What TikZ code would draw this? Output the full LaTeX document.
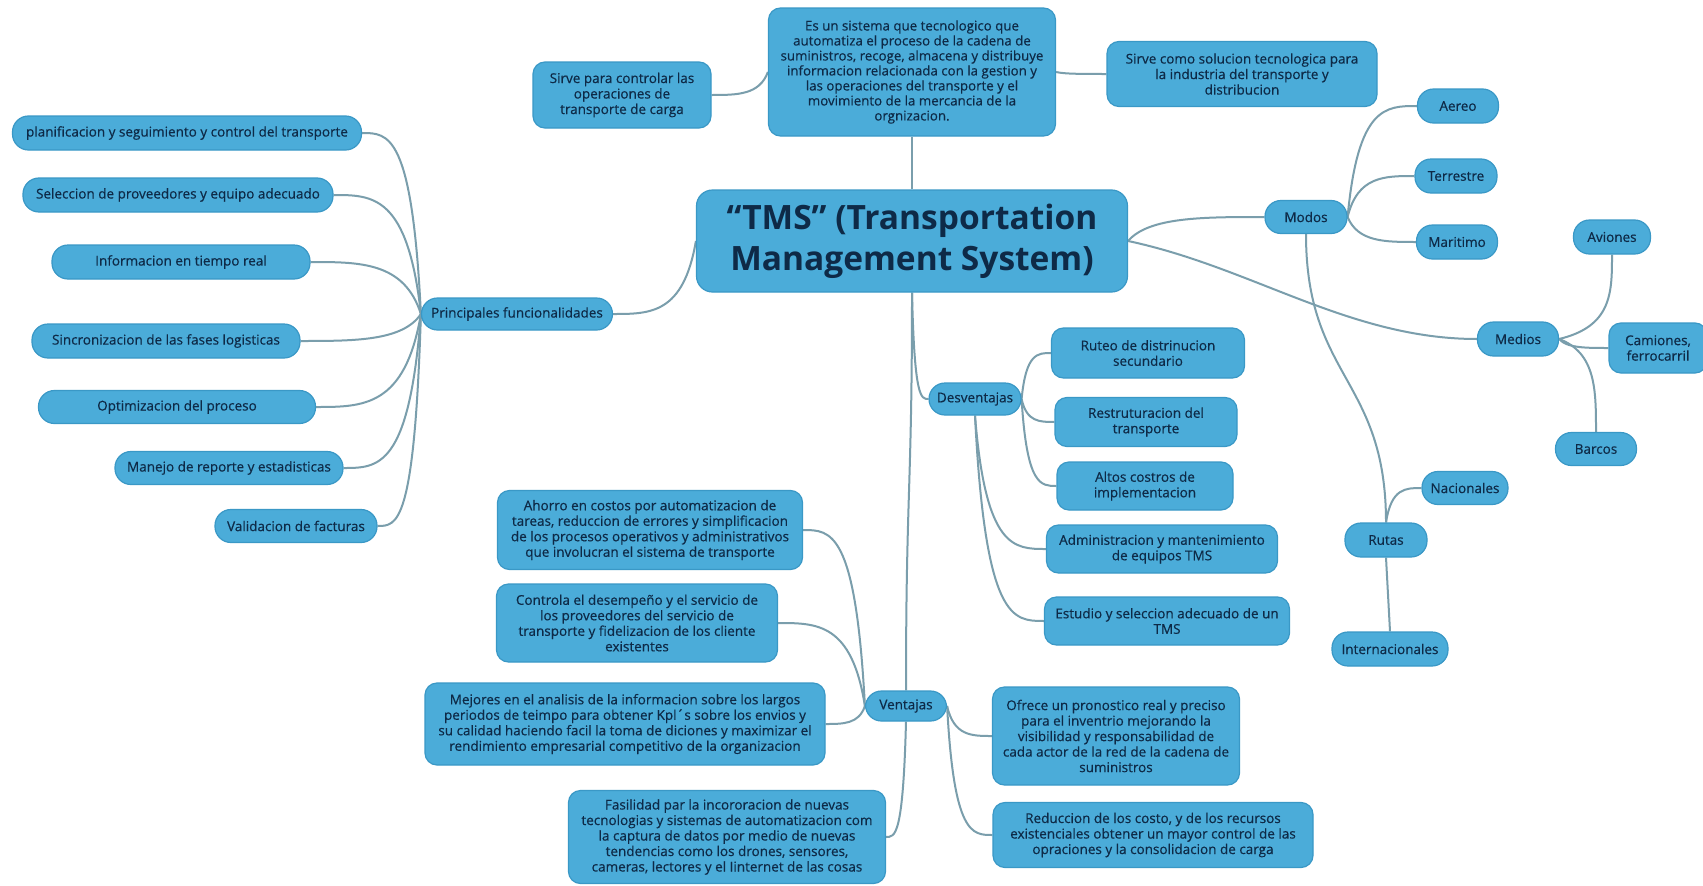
\documentclass[tikz,border=0pt]{standalone}
\usepackage{fontspec}
\setmainfont{Open Sans}
\newfontfamily\nodefont{Open Sans}[FakeBold=0.5]
\usetikzlibrary{calc,backgrounds}
\definecolor{boxfill}{HTML}{4BACD9}
\definecolor{boxedge}{HTML}{3A98C6}
\definecolor{ink}{HTML}{0E2A47}
\definecolor{wire}{HTML}{7A9EAC}
\tikzset{
  box/.style={draw=boxedge, line width=1.2pt, fill=boxfill, text=ink, align=center,
    inner sep=2pt, font=\nodefont\fontsize{13.5}{15.5}\selectfont},
  pill/.style={box, rounded corners=16pt},
  card/.style={box, rounded corners=12pt},
  link/.style={draw=wire, line width=2pt},
  % branch that ends horizontally at its target
  hbr/.style={to path={let \p1=(\tikztostart), \p2=(\tikztotarget) in
    .. controls ({\x1+0.15*(\x2-\x1)},\y2) and ({\x1+0.55*(\x2-\x1)},\y2) .. (\tikztotarget)}},
  % branch that ends vertically at its target
  vbr/.style={to path={let \p1=(\tikztostart), \p2=(\tikztotarget) in
    .. controls (\x2,{\y1+0.15*(\y2-\y1)}) and (\x2,{\y1+0.55*(\y2-\y1)}) .. (\tikztotarget)}},
  % branch that leaves and arrives vertically
  vsc/.style={to path={let \p1=(\tikztostart), \p2=(\tikztotarget) in
    .. controls (\x1,{\y1+0.5*(\y2-\y1)}) and (\x2,{\y1+0.5*(\y2-\y1)}) .. (\tikztotarget)}},
}
\begin{document}
\begin{tikzpicture}[x=1pt,y=-1pt]
\useasboundingbox (0,0) rectangle (1703,886);

% central topic
\node[card, rounded corners=16pt, minimum width=431, minimum height=102,
  font=\bfseries\fontsize{33.5}{41}\selectfont] (tms) at (912,241)
  {“TMS” (Transportation\\Management System)};

% definition and purpose
\node[card, minimum width=287, minimum height=128, font=\nodefont\fontsize{13.3}{15}\selectfont] (top) at (912,72)
  {Es un sistema que tecnologico que\\automatiza el proceso de la cadena de\\suministros, recoge, almacena y distribuye\\informacion relacionada con la gestion y\\las operaciones del transporte y el\\movimiento de la mercancia de la\\orgnizacion.};
\node[card, minimum width=178, minimum height=66] (sirveA) at (622,95)
  {Sirve para controlar las\\operaciones de\\transporte de carga};
\node[card, minimum width=270, minimum height=65] (sirveB) at (1242,74)
  {Sirve como solucion tecnologica para\\la industria del transporte y\\distribucion};

% main functions
\node[pill, minimum width=191, minimum height=32] (pf) at (517,314) {Principales funcionalidades};
\node[pill, minimum width=349, minimum height=34] (plan) at (187,133) {planificacion y seguimiento y control del transporte};
\node[pill, minimum width=310, minimum height=34] (sel) at (178,195) {Seleccion de proveedores y equipo adecuado};
\node[pill, minimum width=258, minimum height=34] (info) at (181,262) {Informacion en tiempo real};
\node[pill, minimum width=268, minimum height=34] (sinc) at (166,341) {Sincronizacion de las fases logisticas};
\node[pill, minimum width=277, minimum height=33] (opt) at (177,407) {Optimizacion del proceso};
\node[pill, minimum width=228, minimum height=33] (man) at (229,468) {Manejo de reporte y estadisticas};
\node[pill, minimum width=162, minimum height=33] (val) at (296,526) {Validacion de facturas};

% modes, means and routes
\node[pill, minimum width=82, minimum height=33] (modos) at (1306,217) {Modos};
\node[pill, minimum width=81, minimum height=34] (aereo) at (1458,106) {Aereo};
\node[pill, minimum width=82, minimum height=34] (terr) at (1456,176) {Terrestre};
\node[pill, minimum width=81, minimum height=34] (mari) at (1457,242) {Maritimo};
\node[pill, minimum width=81, minimum height=34] (medios) at (1518,339) {Medios};
\node[pill, minimum width=77, minimum height=34] (aviones) at (1612,237) {Aviones};
\node[card, minimum width=98, minimum height=50] (camiones) at (1658,348) {Camiones,\\ferrocarril};
\node[pill, minimum width=81, minimum height=33] (barcos) at (1596,449) {Barcos};
\node[pill, minimum width=82, minimum height=34] (rutas) at (1386,540) {Rutas};
\node[pill, minimum width=86, minimum height=33] (nac) at (1465,488) {Nacionales};
\node[pill, minimum width=116, minimum height=34] (inter) at (1390,649) {Internacionales};

% disadvantages
\node[pill, minimum width=92, minimum height=32] (desv) at (975,399) {Desventajas};
\node[card, minimum width=193, minimum height=50] (ruteo) at (1148,353) {Ruteo de distrinucion\\secundario};
\node[card, minimum width=182, minimum height=49] (restr) at (1146,422) {Restruturacion del\\transporte};
\node[card, minimum width=176, minimum height=48] (altos) at (1145,486) {Altos costros de\\implementacion};
\node[card, minimum width=231, minimum height=48] (admin) at (1162,549) {Administracion y mantenimiento\\de equipos TMS};
\node[card, minimum width=245, minimum height=48] (estudio) at (1167,621) {Estudio y seleccion adecuado de un\\TMS};

% advantages
\node[pill, minimum width=81, minimum height=30] (vent) at (906,706) {Ventajas};
\node[card, minimum width=305, minimum height=79] (ahorro) at (650,530)
  {Ahorro en costos por automatizacion de\\tareas, reduccion de errores y simplificacion\\de los procesos operativos y administrativos\\que involucran el sistema de transporte};
\node[card, minimum width=281, minimum height=78] (controla) at (637,623)
  {Controla el desempeño y el servicio de\\los proveedores del servicio de\\transporte y fidelizacion de los cliente\\existentes};
\node[card, minimum width=400, minimum height=82] (mejores) at (625,724)
  {Mejores en el analisis de la informacion sobre los largos\\periodos de teimpo para obtener Kpl´s sobre los envios y\\su calidad haciendo facil la toma de diciones y maximizar el\\rendimiento empresarial competitivo de la organizacion};
\node[card, minimum width=317, minimum height=93] (fasil) at (727,837)
  {Fasilidad par la incororacion de nuevas\\tecnologias y sistemas de automatizacion com\\la captura de datos por medio de nuevas\\tendencias como los drones, sensores,\\cameras, lectores y el Iinternet de las cosas};
\node[card, minimum width=247, minimum height=98] (ofrece) at (1116,736)
  {Ofrece un pronostico real y preciso\\para el inventrio mejorando la\\visibilidad y responsabilidad de\\cada actor de la red de la cadena de\\suministros};
\node[card, minimum width=320, minimum height=65] (reduc) at (1153,835)
  {Reduccion de los costo, y de los recursos\\existenciales obtener un mayor control de las\\opraciones y la consolidacion de carga};

\begin{scope}[on background layer]
  \fill[white] (0,0) rectangle (1703,886);
  % central topic
  \draw[link] (tms.north) -- (top.south);
  \draw[link] (top.west) to[hbr] (sirveA.east);
  \draw[link] (top.east) to[hbr] (sirveB.west);
  \draw[link] (tms.west) to[hbr] (pf.east);
  \draw[link] (tms.east) to[hbr] (modos.west);
  \draw[link] (tms.east) to[out=-12, in=180, looseness=0.9] (medios.west);
  \draw[link] (tms.south) to[hbr] (desv.west);
  \draw[link] (tms.south) to[vsc] (vent.north);
  % main functions
  \foreach \c in {plan,sel,info,sinc,opt,man,val}
    \draw[link] (pf.west) to[hbr] (\c.east);
  % modes
  \foreach \c in {aereo,terr,mari}
    \draw[link] (modos.east) to[hbr] (\c.west);
  \draw[link] (modos.south) to[vsc] (rutas.north);
  \draw[link] (rutas.north) to[hbr] (nac.west);
  \draw[link] (rutas.south) -- (inter.north);
  % means
  \draw[link] (medios.east) to[vbr] (aviones.south);
  \draw[link] (medios.east) to[hbr] (camiones.west);
  \draw[link] (medios.east) to[vbr] (barcos.north);
  % disadvantages
  \foreach \c in {ruteo,restr,altos}
    \draw[link] (desv.east) to[hbr] (\c.west);
  \foreach \c in {admin,estudio}
    \draw[link] (desv.south) to[hbr] (\c.west);
  % advantages
  \foreach \c in {ahorro,controla,mejores}
    \draw[link] (vent.west) to[hbr] (\c.east);
  \draw[link] (vent.south) to[hbr] (fasil.east);
  \foreach \c in {ofrece,reduc}
    \draw[link] (vent.east) to[hbr] (\c.west);
\end{scope}
\end{tikzpicture}
\end{document}
